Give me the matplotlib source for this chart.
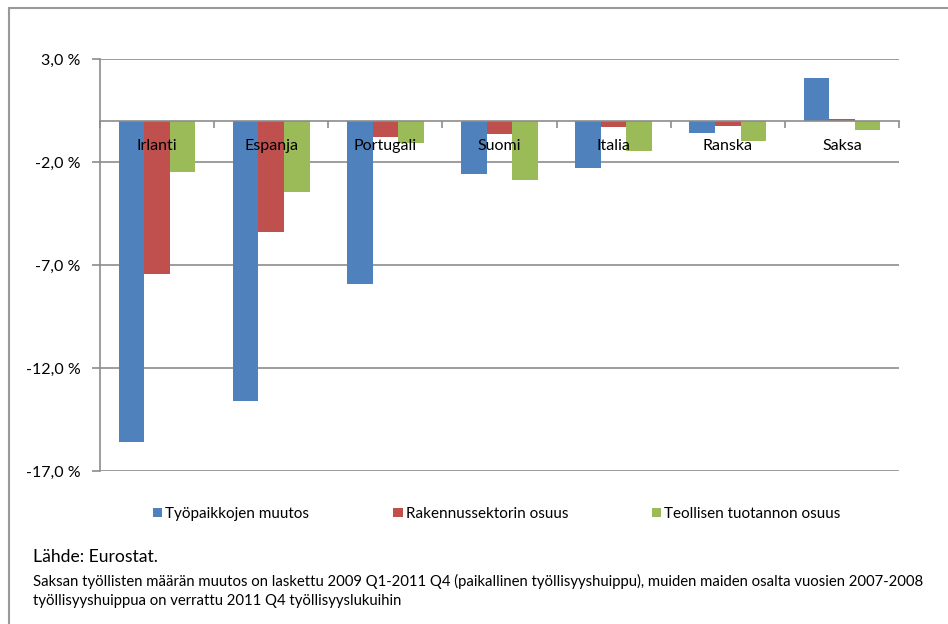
import numpy as np
import matplotlib
matplotlib.use("Agg")
import matplotlib.pyplot as plt
from matplotlib.patches import Rectangle, Patch

plt.rcParams["font.family"] = ["Lato", "DejaVu Sans"]

countries = ["Irlanti", "Espanja", "Portugali", "Suomi", "Italia", "Ranska", "Saksa"]
series_names = ["Työpaikkojen muutos", "Rakennussektorin osuus", "Teollisen tuotannon osuus"]
jobs = [-15.6, -13.6, -7.9, -2.6, -2.3, -0.6, 2.1]
construction = [-7.45, -5.4, -0.8, -0.65, -0.3, -0.25, 0.1]
industry = [-2.5, -3.45, -1.1, -2.85, -1.45, -1.0, -0.45]
yticks = [3.0, -2.0, -7.0, -12.0, -17.0]
colors = ["#4F81BD", "#C0504D", "#9BBB59"]

source_text = "Lähde: Eurostat."
note_text = ("Saksan työllisten määrän muutos on laskettu 2009 Q1-2011 Q4 (paikallinen työllisyyshuippu), "
             "muiden maiden osalta vuosien 2007-2008\ntyöllisyyshuippua on verrattu 2011 Q4 työllisyyslukuihin")

W, H = 948, 624
fig = plt.figure(figsize=(W / 100, H / 100), dpi=100)
ax = fig.add_axes([100 / W, 1 - 471 / H, 799 / W, 412 / H])

x = np.arange(len(countries))
bw = 0.224
for i, vals in enumerate([jobs, construction, industry]):
    ax.bar(x + (i - 1) * bw, vals, width=bw, color=colors[i], zorder=1)

for v in yticks:
    ax.axhline(v, color="#8c8c8c", linewidth=1.2, zorder=0)

ax.set_xlim(-0.5, len(countries) - 0.5)
ax.set_ylim(min(yticks), max(yticks))

ax.spines["top"].set_visible(False)
ax.spines["right"].set_visible(False)
ax.spines["left"].set_color("#8c8c8c")
ax.spines["left"].set_linewidth(1.2)
ax.spines["bottom"].set_position(("data", 0))
ax.spines["bottom"].set_color("#8c8c8c")
ax.spines["bottom"].set_linewidth(1.2)

ax.set_yticks(yticks)
ax.set_yticklabels([f"{v:.1f} %".replace(".", ",") for v in yticks])
ax.tick_params(axis="y", length=6, width=1.2, color="#8c8c8c", pad=8, labelsize=11.5)

ax.set_xticks(np.arange(len(countries) + 1) - 0.5)
ax.set_xticklabels([])
ax.tick_params(axis="x", which="major", length=5, width=1.2, color="#8c8c8c", direction="out")
ax.set_xticks(x, minor=True)
ax.set_xticklabels(countries, minor=True)
ax.tick_params(axis="x", which="minor", length=0, pad=13, labelsize=11.5)

handles = [Patch(facecolor=c) for c in colors]
fig.legend(handles, series_names, loc="center", bbox_to_anchor=(497 / W, 1 - 514 / H),
           ncol=3, frameon=False, fontsize=11, handlelength=0.6, handleheight=0.6,
           handletextpad=0.2, columnspacing=5.5)

fig.text(33 / W, 1 - 557 / H, source_text, fontsize=12.6, va="center")
fig.text(33 / W, 1 - 591 / H, note_text, fontsize=10.7, va="center", linespacing=1.45)

fig.add_artist(Rectangle((9 / W, -0.1), 1.2, 1 - 8 / H + 0.1, transform=fig.transFigure,
                         fill=False, edgecolor="#999999", linewidth=1.5))

fig.savefig("out.png", dpi=100)
